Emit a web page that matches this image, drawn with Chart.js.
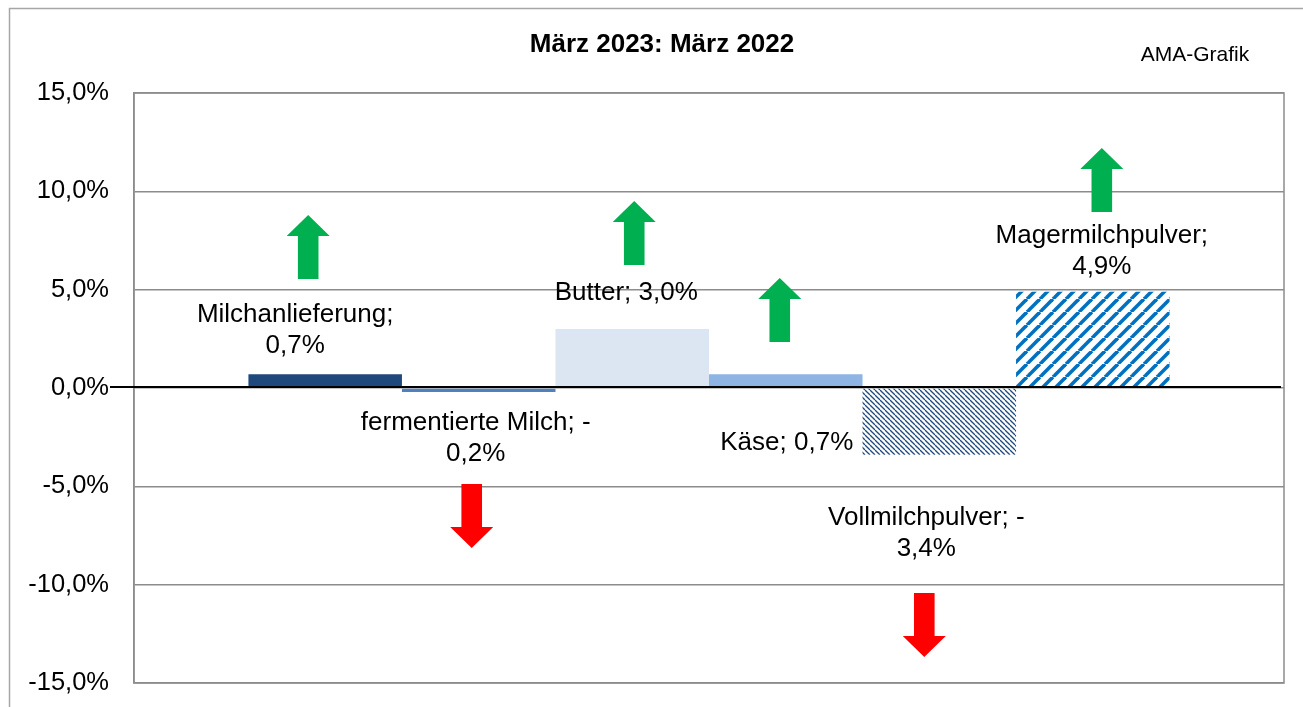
<!DOCTYPE html>
<html>
<head>
<meta charset="utf-8">
<script src="https://cdn.jsdelivr.net/npm/chart.js@4.4.1/dist/chart.umd.min.js"></script>
<style>
  html, body { margin: 0; padding: 0; background: #fff; }
  canvas { display: block; }
</style>
</head>
<body>
<canvas id="chart" width="1303" height="707"></canvas>
<script>
// Werte aus der Grafik (Veränderung März 2023 zu März 2022, in %)
const categories = ['Milchanlieferung', 'fermentierte Milch', 'Butter', 'Käse', 'Vollmilchpulver', 'Magermilchpulver'];
const changes = [0.7, -0.2, 3.0, 0.7, -3.4, 4.9];
const yTicks = [-15, -10, -5, 0, 5, 10, 15];

const FONT = "'Liberation Sans', Arial, sans-serif";
const GRID = '#8c8c8c';

function fmt(v) {
    return v.toFixed(1).replace('.', ',') + '%';
}

// hatch patterns for the two powder bars
function makeHatch(size, color, width, forward) {
    const c = document.createElement('canvas');
    c.width = size; c.height = size;
    const g = c.getContext('2d');
    g.fillStyle = '#fff';
    g.fillRect(0, 0, size, size);
    g.strokeStyle = color;
    g.lineWidth = width;
    for (let k = -1; k <= 1; k++) {
        g.beginPath();
        if (forward) {
            g.moveTo(k * size, size);
            g.lineTo(k * size + size, 0);
        } else {
            g.moveTo(k * size, 0);
            g.lineTo(k * size + size, size);
        }
        g.stroke();
    }
    return g.createPattern(c, 'repeat');
}

const fills = [
    '#1F497D',
    '#4F81BD',
    '#DCE6F2',
    '#8DB4E2',
    makeHatch(5, '#1F497D', 1.3, false),
    makeHatch(13, '#0070C0', 3.6, true)
];

// where the labels and arrows sit (offset from bar centre in px, height in %)
const labelPos = [
    { dx: -30, y: 3.71, wrap: true },
    { dx: -3, y: -1.78, wrap: true },
    { dx: -6, y: 4.85, wrap: false },
    { dx: 1, y: -2.80, wrap: false },
    { dx: -13, y: -6.61, wrap: true },
    { dx: 9, y: 7.73, wrap: true }
];
const arrowPos = [
    { bar: 0, dx: -17, tail: 5.54, tip: 8.80 },
    { bar: 1, dx: -7, tail: -4.88, tip: -8.14 },
    { bar: 2, dx: 2, tail: 6.25, tip: 9.51 },
    { bar: 3, dx: -6, tail: 2.34, tip: 5.59 },
    { bar: 4, dx: -15, tail: -10.42, tip: -13.68 },
    { bar: 5, dx: 9, tail: 8.95, tip: 12.20 }
];

const decorations = {
    id: 'decorations',
    beforeDraw(chart) {
        const ctx = chart.ctx;
        ctx.save();
        ctx.fillStyle = '#fff';
        ctx.fillRect(0, 0, chart.width, chart.height);
        ctx.strokeStyle = '#a6a6a6';
        ctx.lineWidth = 1.5;
        ctx.strokeRect(9.5, 8.5, 1400, 800);
        // title + source
        ctx.fillStyle = '#000';
        ctx.textAlign = 'center';
        ctx.textBaseline = 'middle';
        ctx.font = 'bold 26px ' + FONT;
        ctx.fillText('März 2023: März 2022', 662, 45);
        ctx.font = '21px ' + FONT;
        ctx.fillText('AMA-Grafik', 1195, 55);
        ctx.restore();
    },
    afterDatasetsDraw(chart) {
        const ctx = chart.ctx;
        const a = chart.chartArea;
        const y = chart.scales.y;
        ctx.save();
        // plot frame
        ctx.strokeStyle = GRID;
        ctx.lineWidth = 1.5;
        ctx.strokeRect(a.left, a.top, a.right - a.left, a.bottom - a.top);
        // black zero line
        const y0 = y.getPixelForValue(0) - 1;
        ctx.strokeStyle = '#000';
        ctx.lineWidth = 2;
        ctx.beginPath();
        ctx.moveTo(110, y0);
        ctx.lineTo(a.right - 3, y0);
        ctx.stroke();

        // data labels
        ctx.fillStyle = '#000';
        ctx.font = '26px ' + FONT;
        ctx.textAlign = 'center';
        ctx.textBaseline = 'middle';
        chart.data.datasets.forEach((ds, i) => {
            const bar = chart.getDatasetMeta(i).data[0];
            const p = labelPos[i];
            const v = ds.data[0];
            const text = ds.label + '; ' + fmt(v);
            let lines = [text];
            if (p.wrap) {
                const cut = v < 0 ? text.indexOf('-') + 1 : text.indexOf(';') + 1;
                lines = [text.slice(0, cut).trim(), text.slice(cut).trim()];
            }
            const ly = y.getPixelForValue(p.y);
            lines.forEach((ln, k) => ctx.fillText(ln, bar.x + p.dx, ly + k * 31));
        });

        // trend arrows
        arrowPos.forEach(p => {
            const bar = chart.getDatasetMeta(p.bar).data[0];
            const cx = bar.x + p.dx;
            const yTip = y.getPixelForValue(p.tip);
            const yTail = y.getPixelForValue(p.tail);
            const s = yTail > yTip ? 1 : -1;
            const baseY = yTip + s * 21;
            const hw = 21.5, sw = 10.3;
            ctx.fillStyle = s > 0 ? '#00B050' : '#FF0000';
            ctx.beginPath();
            ctx.moveTo(cx, yTip);
            ctx.lineTo(cx + hw, baseY);
            ctx.lineTo(cx + sw, baseY);
            ctx.lineTo(cx + sw, yTail);
            ctx.lineTo(cx - sw, yTail);
            ctx.lineTo(cx - sw, baseY);
            ctx.lineTo(cx - hw, baseY);
            ctx.closePath();
            ctx.fill();
        });
        ctx.restore();
    }
};

new Chart(document.getElementById('chart'), {
    type: 'bar',
    data: {
        labels: [''],
        datasets: categories.map((name, i) => ({
            label: name,
            data: [changes[i]],
            backgroundColor: fills[i],
            borderWidth: 0,
            categoryPercentage: 0.801,
            barPercentage: 1.0
        }))
    },
    options: {
        responsive: false,
        devicePixelRatio: 1,
        animation: false,
        layout: { padding: { top: 93, right: 19, bottom: 24, left: 0 } },
        plugins: {
            legend: { display: false },
            title: { display: false },
            tooltip: { enabled: false }
        },
        scales: {
            x: { display: false },
            y: {
                min: -15,
                max: 15,
                afterFit(scale) { scale.width = 134; },
                afterBuildTicks(scale) { scale.ticks = yTicks.map(v => ({ value: v })); },
                grid: { color: GRID, lineWidth: 1.5, drawTicks: true, tickLength: 25, tickColor: 'rgba(0,0,0,0)' },
                border: { display: true, color: GRID, width: 1.5 },
                ticks: {
                    padding: 0,
                    color: '#000',
                    font: { family: FONT, size: 25.5 },
                    callback: v => fmt(v)
                }
            }
        }
    },
    plugins: [decorations]
});
</script>
</body>
</html>
